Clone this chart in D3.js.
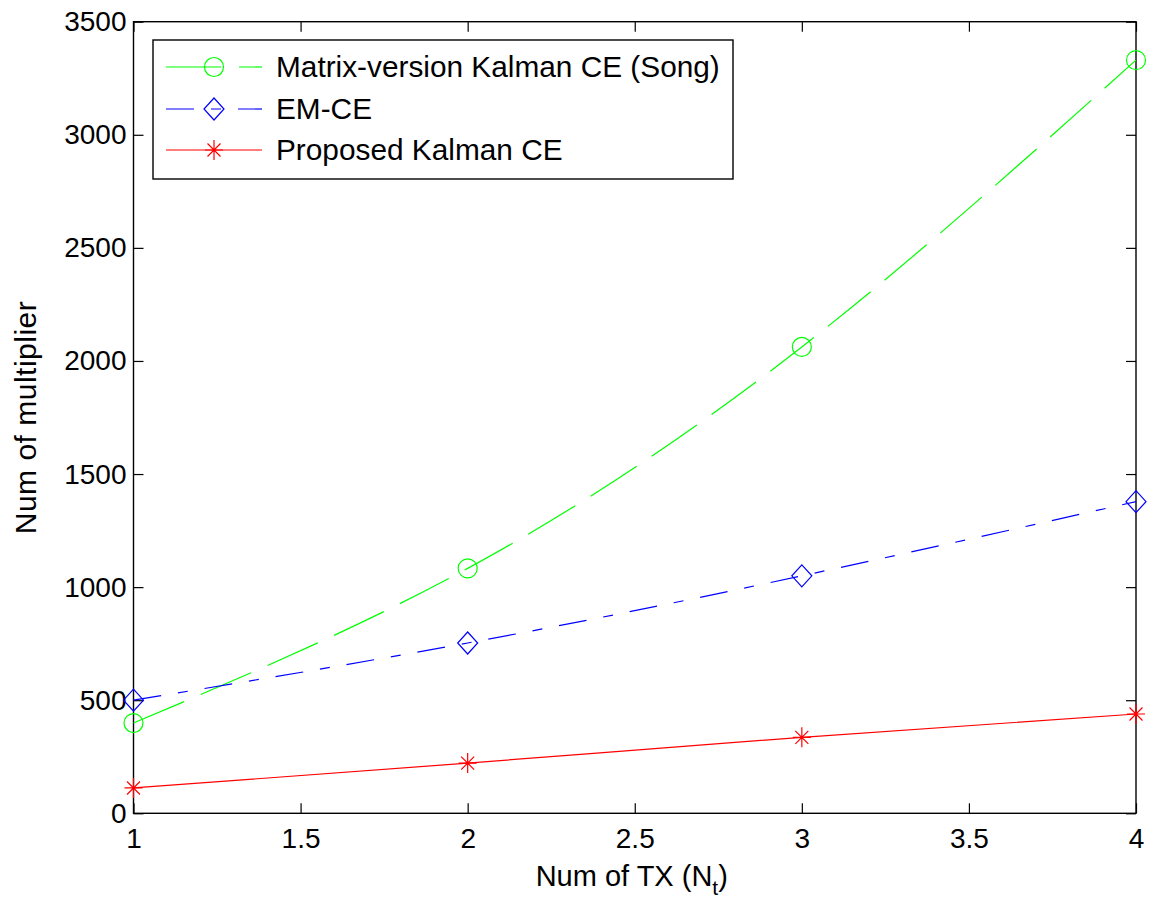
<!DOCTYPE html>
<html>
<head>
<meta charset="utf-8">
<script src="https://cdn.jsdelivr.net/npm/d3@7"></script>
<style>
  body { margin: 0; background: #fff; }
  text { font-family: "Liberation Sans", Arial, sans-serif; fill: #000; }
</style>
</head>
<body>
<div id="chart"></div>
<script>
// data
const numTx = [1, 2, 3, 4];
const kalmanSong = [399, 1083, 2062, 3330];
const emCe = [500, 753, 1050, 1378];
const proposedKalman = [112, 222, 336, 439];
const seriesNames = ['Matrix-version Kalman CE (Song)', 'EM-CE', 'Proposed Kalman CE'];
const xTicks = [1, 1.5, 2, 2.5, 3, 3.5, 4];
const yTicks = [0, 500, 1000, 1500, 2000, 2500, 3000, 3500];

const W = 1160, H = 901;
const margin = {t: 21.7, r: 24, b: 87.7, l: 133.5};
const width = W - margin.l - margin.r;
const height = H - margin.t - margin.b;

const svg = d3.select('#chart').append('svg').attr('width', W).attr('height', H);
const mainG = svg.append('g').attr('transform', `translate(${margin.l},${margin.t})`);

//scales
const xScale = d3.scaleLinear().domain([1, 4]).range([0, width]);
const yScale = d3.scaleLinear().domain([0, 3500]).range([height, 0]);

const fmt = d => String(d);

//axes (ticks inside, matlab style)
mainG.append('g').attr('class', 'x-axis')
  .attr('transform', `translate(0,${height})`)
  .call(d3.axisBottom(xScale).tickValues(xTicks).tickFormat(fmt).tickSizeInner(-10).tickSizeOuter(0).tickPadding(15));
mainG.append('g').attr('class', 'y-axis')
  .call(d3.axisLeft(yScale).tickValues(yTicks).tickFormat(fmt).tickSizeInner(-10).tickSizeOuter(0).tickPadding(7));
mainG.append('g').attr('class', 'x-axis-top')
  .call(d3.axisTop(xScale).tickValues(xTicks).tickFormat('').tickSizeInner(-10).tickSizeOuter(0));
mainG.append('g').attr('class', 'y-axis-right')
  .attr('transform', `translate(${width},0)`)
  .call(d3.axisRight(yScale).tickValues(yTicks).tickFormat('').tickSizeInner(-10).tickSizeOuter(0));

mainG.selectAll('.domain').remove();
mainG.selectAll('.tick line').attr('stroke', '#000').attr('stroke-width', 1.2);
mainG.selectAll('.tick text').style('font-size', '28px').attr('fill', '#000');

mainG.append('rect').attr('x', 0).attr('y', 0).attr('width', width).attr('height', height)
  .attr('fill', 'none').attr('stroke', '#000').attr('stroke-width', 1.4);

//series
const series = [
  {name: seriesNames[0], values: kalmanSong, color: '#00ff00', dash: '55 18', marker: 'circle'},
  {name: seriesNames[1], values: emCe, color: '#0000ff', dash: '28 17 10 17', marker: 'diamond'},
  {name: seriesNames[2], values: proposedKalman, color: '#ff0000', dash: null, marker: 'star'}
];

const line = d3.line()
  .x(d => xScale(d[0]))
  .y(d => yScale(d[1]))
  .curve(d3.curveNatural);

const markerPath = (type) => {
  if (type === 'diamond') return 'M0,-11L10,0L0,11L-10,0Z';
  if (type === 'star') return 'M0,-10L0,10M-9,0L9,0M-6.5,-6.5L6.5,6.5M-6.5,6.5L6.5,-6.5';
  return null;
};

const drawMarker = (g, s, x, y) => {
  if (s.marker === 'circle') {
    g.append('circle').attr('cx', x).attr('cy', y).attr('r', 9.5)
      .attr('fill', 'none').attr('stroke', s.color).attr('stroke-width', 1.2);
  } else {
    g.append('path').attr('transform', `translate(${x},${y})`).attr('d', markerPath(s.marker))
      .attr('fill', 'none').attr('stroke', s.color).attr('stroke-width', 1.2);
  }
};

series.forEach(s => {
  const pts = numTx.map((x, i) => [x, s.values[i]]);
  mainG.append('path').datum(pts)
    .attr('d', line)
    .attr('fill', 'none')
    .attr('stroke', s.color)
    .attr('stroke-width', 1.2)
    .attr('stroke-dasharray', s.dash);
  const mg = mainG.append('g');
  pts.forEach(p => drawMarker(mg, s, xScale(p[0]), yScale(p[1])));
});

//legend
const legend = svg.append('g').attr('class', 'legend');
legend.append('rect').attr('x', 153).attr('y', 40).attr('width', 580).attr('height', 139)
  .attr('fill', '#fff').attr('stroke', '#000').attr('stroke-width', 1.4);
const rowY = [67, 109, 150];
series.forEach((s, i) => {
  legend.append('line').attr('x1', 166).attr('x2', 262).attr('y1', rowY[i]).attr('y2', rowY[i])
    .attr('stroke', s.color).attr('stroke-width', 1.2).attr('stroke-dasharray', s.dash);
  drawMarker(legend, s, 214, rowY[i]);
  legend.append('text').attr('x', 276).attr('y', rowY[i]).attr('dy', '0.35em')
    .style('font-size', '29.8px').text(s.name);
});

//axis labels
svg.append('text')
  .attr('transform', `translate(36,${margin.t + height / 2}) rotate(-90)`)
  .attr('text-anchor', 'middle')
  .style('font-size', '30px')
  .style('letter-spacing', '0.5px')
  .text('Num of multiplier');

const xl = svg.append('text')
  .attr('x', margin.l + width / 2 - 3).attr('y', 886)
  .attr('text-anchor', 'middle')
  .style('font-size', '29px');
xl.append('tspan').text('Num of TX (N');
xl.append('tspan').attr('dy', 9).style('font-size', '21px').text('t');
xl.append('tspan').attr('dy', -9).text(')');
</script>
</body>
</html>
